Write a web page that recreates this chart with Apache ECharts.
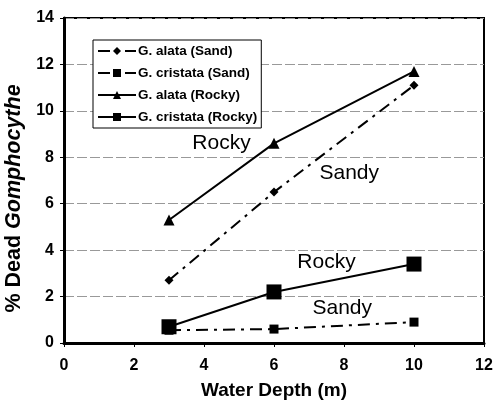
<!DOCTYPE html>
<html>
<head>
<meta charset="utf-8">
<script src="https://cdn.jsdelivr.net/npm/echarts@6/dist/echarts.min.js"></script>
<style>
  html, body { margin: 0; padding: 0; background: #fff; }
  #main { width: 494px; height: 401px; }
</style>
</head>
<body>
<div id="main"></div>
<script>
const FONT = '"Liberation Sans", Arial, sans-serif'

const depths = [3, 6, 10]
const alataSand = [2.7, 6.5, 11.1]
const cristataSand = [0.55, 0.6, 0.9]
const alataRocky = [5.3, 8.6, 11.7]
const cristataRocky = [0.7, 2.2, 3.4]

// habitat annotations [x, y, text]
const notes = [
  [4.5, 8.6, 'Rocky'],
  [8.15, 7.3, 'Sandy'],
  [7.5, 3.5, 'Rocky'],
  [7.95, 1.5, 'Sandy']
]

const seriesNames = ['G. alata (Sand)', 'G. cristata (Sand)', 'G. alata (Rocky)', 'G. cristata (Rocky)']
const dashDot = [12, 6, 3, 6]

const pts = ys => depths.map((d, i) => [d, ys[i]])

const lineSeries = (name, ys, symbol, size, dashed) => ({
  name: name,
  type: 'line',
  data: pts(ys),
  symbol: symbol,
  symbolSize: size,
  showAllSymbol: true,
  itemStyle: { color: '#000' },
  lineStyle: { color: '#000', width: 2, type: dashed ? dashDot : 'solid' },
  z: 3
})

const chart = echarts.init(document.getElementById('main'))
chart.setOption({
  animation: false,
  textStyle: { fontFamily: FONT },
  grid: {
    left: 64, right: 10, top: 18, bottom: 58,
    outerBoundsMode: 'none',
    show: true, borderColor: '#000', borderWidth: 2
  },
  legend: {
    data: seriesNames,
    orient: 'vertical',
    left: 93, top: 40,
    padding: [4, 4, 4, 4],
    itemWidth: 38, itemHeight: 10, itemGap: 8,
    borderColor: '#000', borderWidth: 1,
    backgroundColor: '#fff',
    textStyle: { fontFamily: FONT, fontSize: 13.5, fontWeight: 'bold', color: '#000', padding: [0, 0, 0, -3] }
  },
  xAxis: {
    type: 'value', min: 0, max: 12, interval: 2,
    name: 'Water Depth (m)', nameLocation: 'middle', nameGap: 38,
    nameTextStyle: { fontFamily: FONT, fontSize: 19, fontWeight: 'bold', color: '#000' },
    axisLine: { show: true, onZero: false, lineStyle: { color: '#000', width: 3 } },
    axisTick: { show: true, length: 4, lineStyle: { color: '#000' } },
    axisLabel: { fontFamily: FONT, fontSize: 16, fontWeight: 'bold', color: '#000', margin: 15 },
    splitLine: { show: false }
  },
  yAxis: {
    type: 'value', min: 0, max: 14, interval: 2,
    name: '{a|% Dead }{b|Gomphocythe}', nameLocation: 'middle', nameGap: 38,
    nameTextStyle: {
      padding: [0, 36, 0, 0],
      rich: {
        a: { fontFamily: FONT, fontSize: 21.5, fontWeight: 'bold', color: '#000' },
        b: { fontFamily: FONT, fontSize: 21.5, fontWeight: 'bold', fontStyle: 'italic', color: '#000' }
      }
    },
    axisLine: { show: true, lineStyle: { color: '#000', width: 3 } },
    axisTick: { show: true, length: 4, lineStyle: { color: '#000' } },
    axisLabel: { fontFamily: FONT, fontSize: 16, fontWeight: 'bold', color: '#000', margin: 10 },
    splitLine: { show: true, lineStyle: { color: '#999', width: 1, type: [10, 3] } }
  },
  series: [
    lineSeries(seriesNames[0], alataSand, 'diamond', 9, true),
    lineSeries(seriesNames[1], cristataSand, 'rect', 9, true),
    lineSeries(seriesNames[2], alataRocky, 'triangle', 11, false),
    lineSeries(seriesNames[3], cristataRocky, 'rect', 15, false),
    {
      name: 'notes',
      type: 'scatter',
      silent: true,
      symbolSize: 0,
      itemStyle: { opacity: 1, color: '#000' },
      data: notes.map(n => ({ value: [n[0], n[1]], label: { formatter: n[2] } })),
      label: {
        show: true, position: 'inside', opacity: 1,
        fontFamily: FONT, fontSize: 21, color: '#000'
      },
      z: 4
    }
  ]
})
</script>
</body>
</html>
